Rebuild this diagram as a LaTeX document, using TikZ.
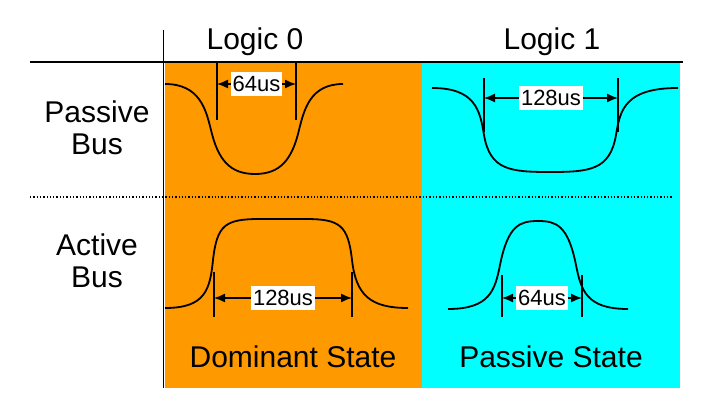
\documentclass[tikz,border=0pt]{standalone}
\usepackage{fontspec}
\setmainfont{Liberation Sans}
\usetikzlibrary{arrows.meta}

\definecolor{dominant}{RGB}{255,153,0}
\definecolor{passive}{RGB}{0,255,255}

\begin{document}
\begin{tikzpicture}[x=1pt, y=-1pt,
	head/.style={font=\fontsize{30}{35}\selectfont, align=center},
	tag/.style={fill=white, inner xsep=2pt, inner ysep=4pt, font=\fontsize{22}{26}\selectfont},
	wave/.style={line width=1.8pt},
	tick/.style={line width=1.4pt},
	dim/.style={line width=1.4pt, {Latex[length=11pt,width=9pt]}-{Latex[length=11pt,width=9pt]}}]
	\useasboundingbox (0,0) rectangle (704,411);

	% background of the two columns
	\fill[dominant] (165,63) rectangle (422,388);
	\fill[passive] (422,63) rectangle (680,388);

	% table rules
	\draw[line width=1.4pt] (30,62) -- (683,62);
	\draw[line width=1pt] (163,30) -- (163,388);
	\draw[line width=1.3pt, dotted] (30,197) -- (672,197);

	% headings
	\node[head] (l0) at (255,42) {Logic 0};
	\node[head] (l1) at (552,42) {Logic 1};
	\node[head] (pb) at (97,128) {Passive\\[-3pt]Bus};
	\node[head] (ab) at (97,261) {Active\\[-3pt]Bus};
	\node[head] (ds) at (293,357) {Dominant State};
	\node[head] (ps) at (551,357) {Passive State};

	% passive bus, logic 0
	\draw[wave] (165,84) .. controls (200,84) and (206,110) .. (211,130)
		.. controls (218,160) and (230,174) .. (255,174)
		.. controls (280,174) and (292,160) .. (299,130)
		.. controls (304,110) and (310,84) .. (343,84);
	\coordinate (a1) at (217,84);
	\coordinate (a2) at (296,84);
	\draw[tick] (217,63) -- (217,120);
	\draw[tick] (296,63) -- (296,120);
	\draw[dim] (a1) -- (a2) node[tag, midway] (t1) {64us};

	% passive bus, logic 1
	\draw[wave] (432,88) .. controls (475,88) and (480,110) .. (484,135)
		.. controls (490,170) and (510,172) .. (550,172)
		.. controls (590,172) and (610,170) .. (616,135)
		.. controls (620,110) and (625,88) .. (678,88);
	\coordinate (b1) at (484,98);
	\coordinate (b2) at (618,98);
	\draw[tick] (484,78) -- (484,132);
	\draw[tick] (618,78) -- (618,132);
	\draw[dim] (b1) -- (b2) node[tag, midway] (t2) {128us};

	% active bus, logic 0
	\draw[wave] (165,308) .. controls (205,308) and (210,290) .. (213,260)
		.. controls (217,225) and (225,219) .. (260,219) -- (305,219)
		.. controls (340,219) and (348,225) .. (352,260)
		.. controls (356,295) and (370,308) .. (408,308);
	\coordinate (c1) at (214,298);
	\coordinate (c2) at (352,298);
	\draw[tick] (214,272) -- (214,317);
	\draw[tick] (352,272) -- (352,317);
	\draw[dim] (c1) -- (c2) node[tag, midway] (t3) {128us};

	% active bus, logic 1
	\draw[wave] (448,309) .. controls (490,309) and (495,290) .. (500,265)
		.. controls (508,225) and (520,221) .. (538,221)
		.. controls (556,221) and (568,225) .. (576,265)
		.. controls (581,290) and (586,309) .. (628,309);
	\coordinate (d1) at (502,298);
	\coordinate (d2) at (582,298);
	\draw[tick] (502,275) -- (502,317);
	\draw[tick] (582,275) -- (582,317);
	\draw[dim] (d1) -- (d2) node[tag, midway] (t4) {64us};
\end{tikzpicture}
\end{document}
